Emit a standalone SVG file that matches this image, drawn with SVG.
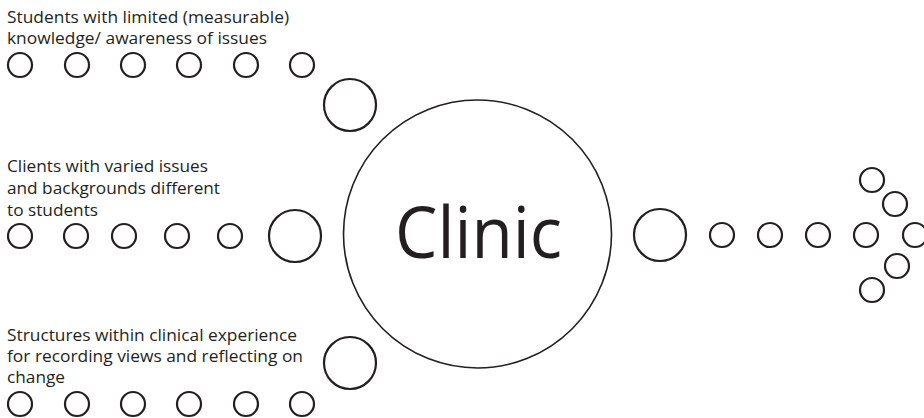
<svg xmlns="http://www.w3.org/2000/svg" width="924" height="418" viewBox="0 0 924 418">
<style>
.s{fill:none;stroke:#231f20;stroke-width:2.2}
.big{fill:none;stroke:#231f20;stroke-width:1.6}
.t{font-family:"Open Sans","Liberation Sans",sans-serif;font-size:15.5px;fill:#231f20}
.c{font-family:"Open Sans","Liberation Sans",sans-serif;font-size:72px;fill:#231f20}
</style>
<rect width="924" height="418" fill="#fff"/>
<g id="clinic">
<circle class="big" cx="477.5" cy="234" r="134"/>
<text class="c" x="478.5" y="258" text-anchor="middle" textLength="167" lengthAdjust="spacingAndGlyphs">Clinic</text>
</g>
<g id="students">
<text class="t" x="7" y="23" textLength="282" lengthAdjust="spacingAndGlyphs">Students with limited (measurable)</text>
<text class="t" x="7" y="44" textLength="260" lengthAdjust="spacingAndGlyphs">knowledge/ awareness of issues</text>
<circle class="s" cx="20" cy="65" r="12"/>
<circle class="s" cx="77" cy="65" r="12"/>
<circle class="s" cx="133" cy="65" r="12"/>
<circle class="s" cx="189" cy="65" r="12"/>
<circle class="s" cx="246" cy="65" r="12"/>
<circle class="s" cx="302" cy="65" r="12"/>
<circle class="s" cx="350" cy="105" r="26"/>
</g>
<g id="clients">
<text class="t" x="7" y="172" textLength="201" lengthAdjust="spacingAndGlyphs">Clients with varied issues</text>
<text class="t" x="7" y="194" textLength="213" lengthAdjust="spacingAndGlyphs">and backgrounds different</text>
<text class="t" x="7" y="216" textLength="91" lengthAdjust="spacingAndGlyphs">to students</text>
<circle class="s" cx="20" cy="236" r="12"/>
<circle class="s" cx="76" cy="236" r="12"/>
<circle class="s" cx="124" cy="236" r="12"/>
<circle class="s" cx="177" cy="236" r="12"/>
<circle class="s" cx="230" cy="236" r="12"/>
<circle class="s" cx="295" cy="236" r="26"/>
</g>
<g id="structures">
<text class="t" x="7" y="341" textLength="290" lengthAdjust="spacingAndGlyphs">Structures within clinical experience</text>
<text class="t" x="7" y="362" textLength="296" lengthAdjust="spacingAndGlyphs">for recording views and reflecting on</text>
<text class="t" x="7" y="383" textLength="58" lengthAdjust="spacingAndGlyphs">change</text>
<circle class="s" cx="20" cy="404" r="12"/>
<circle class="s" cx="77" cy="404" r="12"/>
<circle class="s" cx="133" cy="404" r="12"/>
<circle class="s" cx="189" cy="404" r="12"/>
<circle class="s" cx="246" cy="404" r="12"/>
<circle class="s" cx="302" cy="404" r="12"/>
<circle class="s" cx="350" cy="363" r="26"/>
</g>
<g id="outcome">
<circle class="s" cx="660" cy="235" r="26"/>
<circle class="s" cx="722" cy="235" r="12"/>
<circle class="s" cx="770" cy="235" r="12"/>
<circle class="s" cx="818" cy="235" r="12"/>
<circle class="s" cx="866" cy="235" r="12"/>
<circle class="s" cx="915" cy="235" r="12"/>
<circle class="s" cx="872" cy="180" r="12"/>
<circle class="s" cx="895" cy="204" r="12"/>
<circle class="s" cx="897" cy="266" r="12"/>
<circle class="s" cx="872" cy="290" r="12"/>
</g>
</svg>
